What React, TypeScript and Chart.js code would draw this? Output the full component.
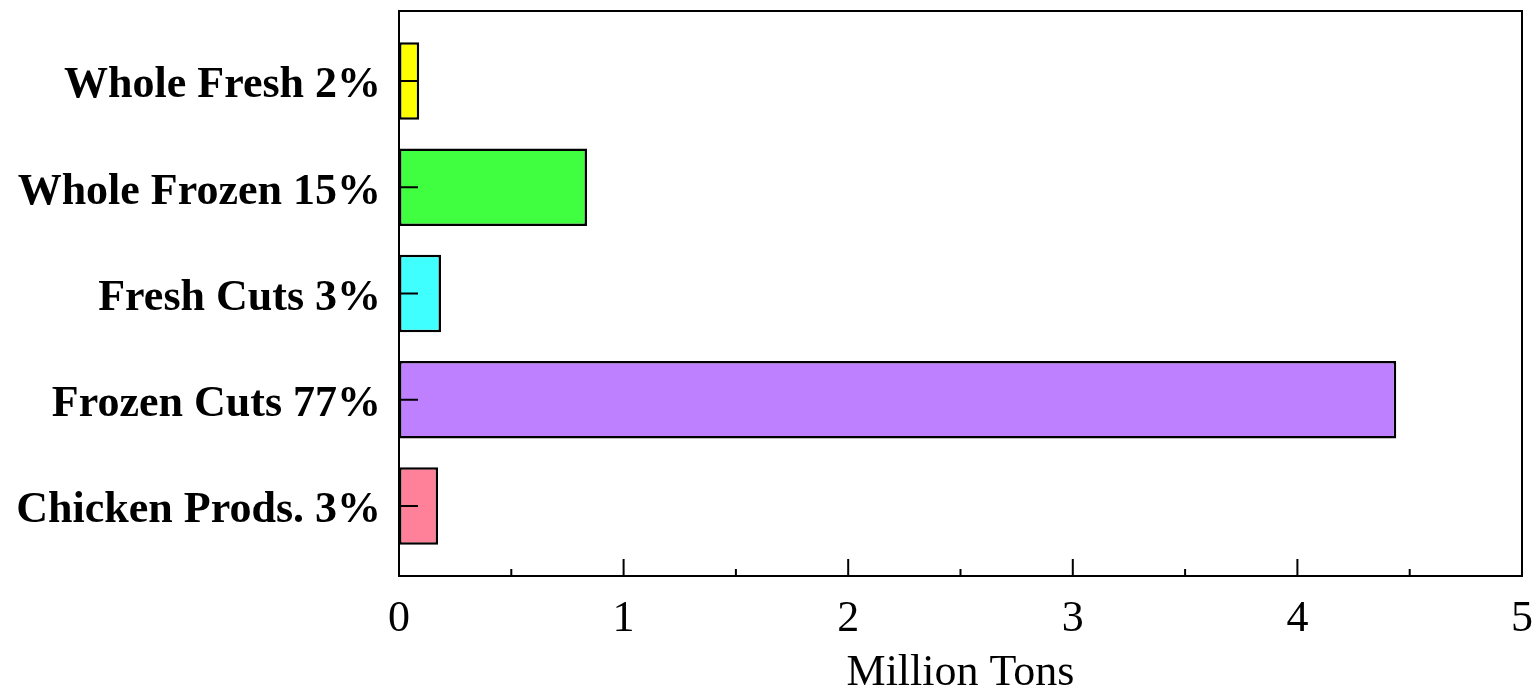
import React, { useEffect, useRef } from "react";
import { Chart, registerables } from "chart.js";

Chart.register(...registerables);

const categories = [
  "Whole Fresh 2%",
  "Whole Frozen 15%",
  "Fresh Cuts 3%",
  "Frozen Cuts 77%",
  "Chicken Prods. 3%",
];
const values = [0.09, 0.837, 0.187, 4.44, 0.174];
const barColors = ["#FFFF00", "#40FF40", "#40FFFF", "#BF80FF", "#FF8099"];
const xMajorTicks = [0, 1, 2, 3, 4, 5];
const xMinorTicks = [0.5, 1.5, 2.5, 3.5, 4.5];
const xTitle = "Million Tons";

const SERIF = "'Liberation Serif', 'Times New Roman', serif";

const framePlugin = {
  id: "frame",
  afterDatasetsDraw(chart: any) {
    const { ctx, chartArea } = chart;
    const xs = chart.scales.x;
    const ys = chart.scales.y;
    ctx.save();
    ctx.strokeStyle = "#000";
    ctx.lineWidth = 2;
    ctx.strokeRect(
      chartArea.left,
      chartArea.top,
      chartArea.right - chartArea.left,
      chartArea.bottom - chartArea.top
    );
    ctx.beginPath();
    categories.forEach((_, i) => {
      const y = ys.getPixelForValue(i);
      ctx.moveTo(chartArea.left, y);
      ctx.lineTo(chartArea.left + 19, y);
    });
    xMajorTicks.forEach((v) => {
      const x = xs.getPixelForValue(v);
      ctx.moveTo(x, chartArea.bottom);
      ctx.lineTo(x, chartArea.bottom - 17);
    });
    xMinorTicks.forEach((v) => {
      const x = xs.getPixelForValue(v);
      ctx.moveTo(x, chartArea.bottom);
      ctx.lineTo(x, chartArea.bottom - 7);
    });
    ctx.stroke();
    ctx.restore();
  },
};

export default function App() {
  const ref = useRef<HTMLCanvasElement>(null);

  useEffect(() => {
    document.body.style.margin = "0";
    if (!ref.current) return;
    const chart = new Chart(ref.current, {
      type: "bar",
      data: {
        datasets: [
          {
            data: values.map((v, i) => ({ x: v, y: i })),
            backgroundColor: barColors,
            borderColor: "#000",
            borderWidth: 2.5,
            borderSkipped: false,
            categoryPercentage: 1,
            barPercentage: 0.73,
          } as any,
        ],
      },
      options: {
        indexAxis: "y",
        animation: false,
        responsive: true,
        maintainAspectRatio: false,
        layout: { padding: { top: 11, right: 17, left: 0, bottom: 0 } },
        plugins: {
          legend: { display: false },
          tooltip: { enabled: false },
        },
        scales: {
          x: {
            type: "linear",
            min: 0,
            max: 5,
            offset: false,
            grid: { display: false, drawTicks: false },
            border: { display: false },
            ticks: {
              stepSize: 1,
              color: "#000",
              padding: 17,
              font: { family: SERIF, size: 44 },
            },
            title: {
              display: true,
              text: xTitle,
              color: "#000",
              font: { family: SERIF, size: 44 },
              padding: { top: 0, bottom: -6 },
            },
            afterFit: (scale: any) => {
              scale.height = 118;
              scale.paddingLeft = 0;
              scale.paddingRight = 0;
            },
          },
          y: {
            type: "linear",
            reverse: true,
            min: -0.66,
            max: 4.66,
            offset: false,
            grid: { display: false, drawTicks: false, offset: false },
            border: { display: false },
            afterBuildTicks: (scale: any) => {
              scale.ticks = categories.map((_, i) => ({ value: i }));
            },
            ticks: {
              color: "#000",
              padding: 18,
              labelOffset: 5,
              font: { family: SERIF, size: 44, weight: "bold" },
              callback: (v: any) => categories[v as number] ?? "",
            },
            afterFit: (scale: any) => {
              scale.width = 399;
              scale.paddingTop = 0;
              scale.paddingBottom = 0;
            },
          },
        },
      },
      plugins: [framePlugin],
    });
    return () => chart.destroy();
  }, []);

  return (
    <div style={{ width: 1539, height: 694, position: "relative", background: "#fff" }}>
      <canvas ref={ref} />
    </div>
  );
}
